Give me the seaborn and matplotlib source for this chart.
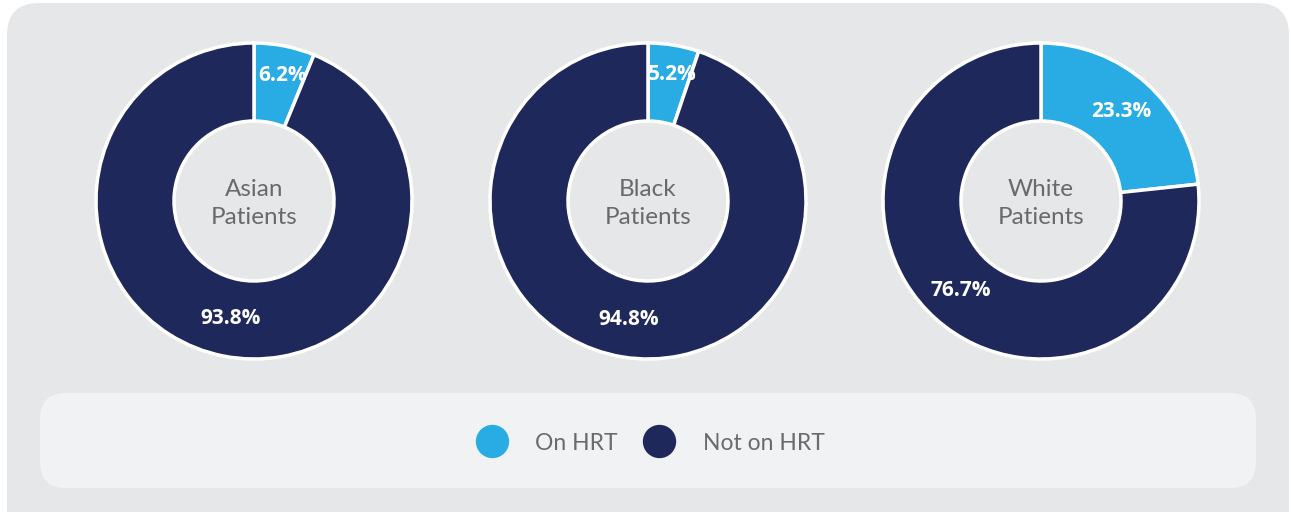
import numpy as np
import matplotlib
matplotlib.use("Agg")
import matplotlib.pyplot as plt
from matplotlib.patches import FancyBboxPatch
from matplotlib.lines import Line2D
import seaborn as sns

groups = ["Asian\nPatients", "Black\nPatients", "White\nPatients"]
on_hrt = [6.2, 5.2, 23.3]
not_on_hrt = [93.8, 94.8, 76.7]
series_labels = ["On HRT", "Not on HRT"]

colors = ["#29ace3", "#1e285b"]
panel_bg = "#e6e7e9"
legend_bg = "#f1f2f4"
text_gray = "#6a6a6a"

sns.set_theme(style="white")
plt.rcParams["font.family"] = ["Lato", "DejaVu Sans"]

W, H = 1291, 512
fig = plt.figure(figsize=(W / 100, H / 100), dpi=100)
fig.patch.set_facecolor("white")

# background panels drawn in pixel space
bg = fig.add_axes([0, 0, 1, 1], zorder=0)
bg.set_xlim(0, W)
bg.set_ylim(H, 0)
bg.axis("off")
bg.add_patch(FancyBboxPatch((7, 3), 1282, 540, boxstyle="round,pad=0,rounding_size=32",
                            facecolor=panel_bg, edgecolor="none"))
bg.add_patch(FancyBboxPatch((40, 393), 1216, 95, boxstyle="round,pad=0,rounding_size=26",
                            facecolor=legend_bg, edgecolor="none"))

centers_x = [254, 648, 1041]
cy = 201
half = 160
for i, (g, a, b) in enumerate(zip(groups, on_hrt, not_on_hrt)):
    ax = fig.add_axes([(centers_x[i] - half) / W, (H - cy - half) / H, 2 * half / W, 2 * half / H],
                      zorder=2)
    ax.set_facecolor("none")
    wedges, _, autotexts = ax.pie(
        [a, b], colors=colors, startangle=90, counterclock=False,
        radius=158 / half, autopct="%.1f%%", pctdistance=0.76,
        wedgeprops=dict(width=78 / half, edgecolor="white", linewidth=2.5),
        textprops=dict(color="white", fontsize=15, fontweight="bold", family="Open Sans"),
    )
    # thin slices get their label pushed a bit further out
    for w, t, v in zip(wedges, autotexts, [a, b]):
        if v < 10:
            ang = np.deg2rad((w.theta1 + w.theta2) / 2)
            r = 0.82
            t.set_position((r * np.cos(ang) + 0.02, r * np.sin(ang) - 0.02))
    ax.set_xlim(-1, 1)
    ax.set_ylim(-1, 1)
    ax.set_aspect("equal")
    ax.axis("off")
    ax.text(0, -0.015, g, ha="center", va="center", fontsize=17.5, color=text_gray,
            linespacing=1.38)

handles = [Line2D([0], [0], marker="o", linestyle="none", markersize=24,
                  markerfacecolor=c, markeredgecolor="none") for c in colors]
leg = fig.legend(handles, series_labels, loc="center", bbox_to_anchor=(650 / W, (H - 443) / H),
                 ncol=2, frameon=False, fontsize=16.5, handlelength=1.4, handletextpad=1.2,
                 columnspacing=1.1)
for t in leg.get_texts():
    t.set_color(text_gray)

fig.savefig("out.png", dpi=100)
